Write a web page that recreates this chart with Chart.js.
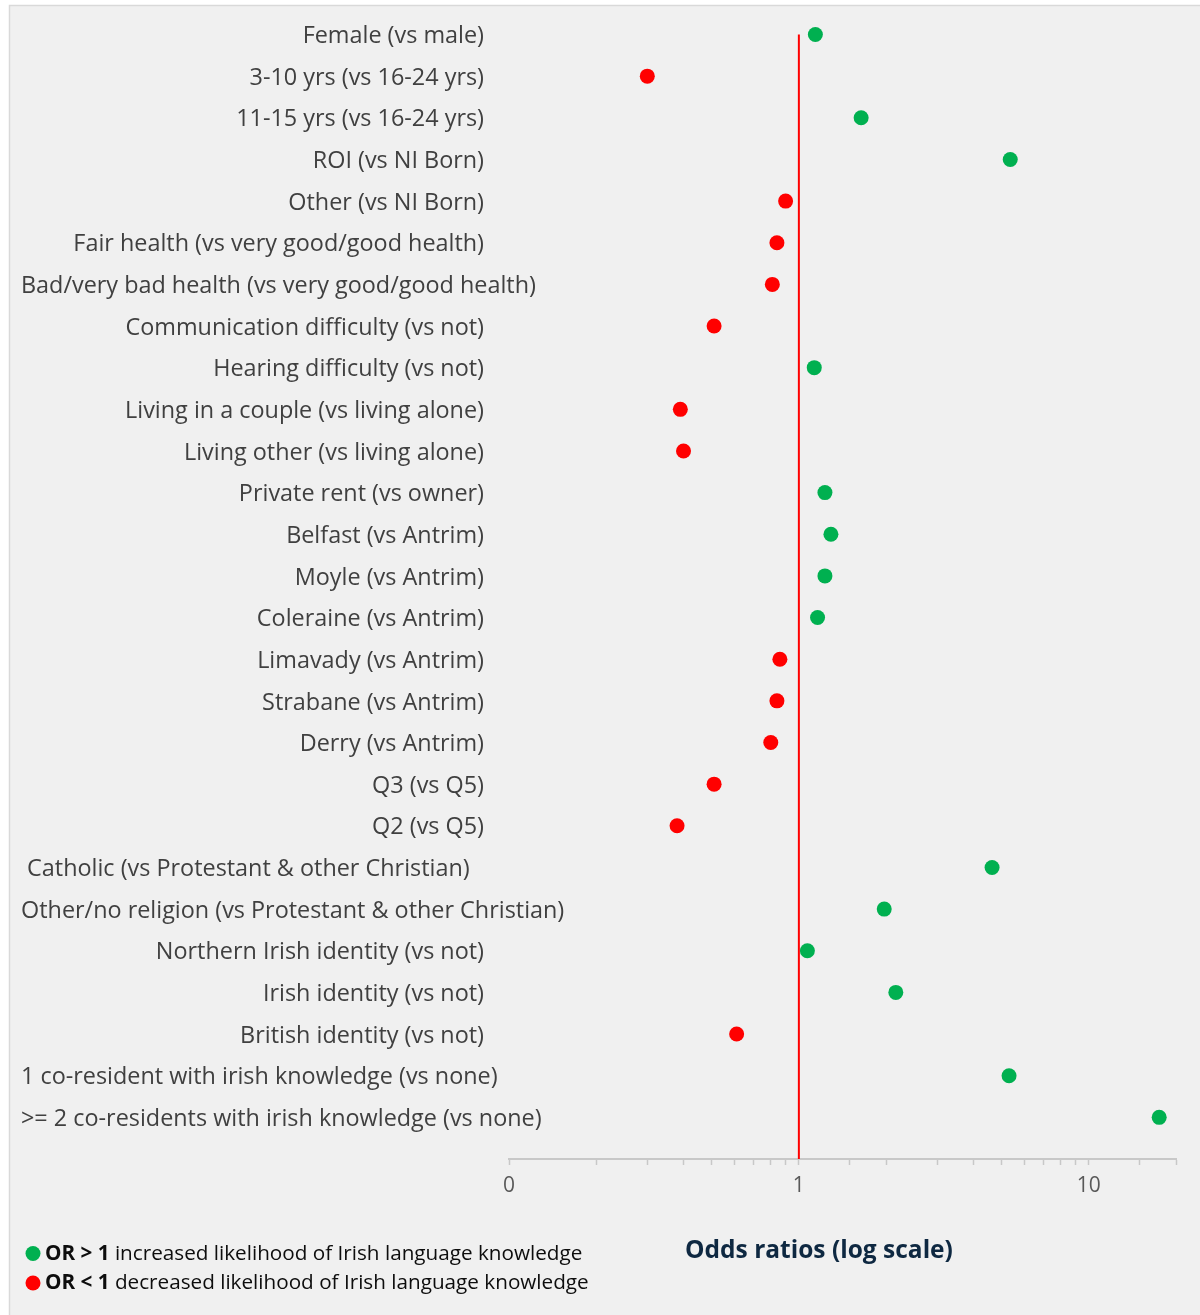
<!DOCTYPE html>
<html>
<head>
<meta charset="utf-8">
<script src="https://cdn.jsdelivr.net/npm/chart.js@4.4.1/dist/chart.umd.min.js"></script>
<style>
  html, body { margin: 0; padding: 0; background: #ffffff; }
  #wrap { width: 1200px; height: 1315px; position: relative; }
  canvas { display: block; }
</style>
</head>
<body>
<div id="wrap"><canvas id="c" width="1200" height="1315"></canvas></div>
<script>
// ---- Data ----
const categories = [
  "Female (vs male)",
  "3-10 yrs (vs 16-24 yrs)",
  "11-15 yrs (vs 16-24 yrs)",
  "ROI (vs NI Born)",
  "Other (vs NI Born)",
  "Fair health (vs very good/good health)",
  "Bad/very bad health (vs very good/good health)",
  "Communication difficulty (vs not)",
  "Hearing difficulty (vs not)",
  "Living in a couple (vs living alone)",
  "Living other (vs living alone)",
  "Private rent (vs owner)",
  "Belfast (vs Antrim)",
  "Moyle (vs Antrim)",
  "Coleraine (vs Antrim)",
  "Limavady (vs Antrim)",
  "Strabane (vs Antrim)",
  "Derry (vs Antrim)",
  "Q3 (vs Q5)",
  "Q2 (vs Q5)",
  " Catholic (vs Protestant & other Christian)",
  "Other/no religion (vs Protestant & other Christian)",
  "Northern Irish identity (vs not)",
  "Irish identity (vs not)",
  "British identity (vs not)",
  "1 co-resident with irish knowledge (vs none)",
  ">= 2 co-residents with irish knowledge (vs none)"
];
const oddsRatios = [
  1.14, 0.30, 1.64, 5.36, 0.90, 0.84, 0.81, 0.51, 1.13, 0.39,
  0.40, 1.23, 1.29, 1.23, 1.16, 0.86, 0.84, 0.80, 0.51, 0.38,
  4.64, 1.97, 1.07, 2.16, 0.61, 5.31, 17.5
];
const xTickLabels = { 0.1: "0", 1: "1", 10: "10" };
const axisTitle = "Odds ratios (log scale)";
const legendItems = [
  { bold: "OR > 1", text: " increased likelihood of Irish language knowledge", up: true },
  { bold: "OR < 1", text: " decreased likelihood of Irish language knowledge", up: false }
];

// ---- Styles ----
const GREEN = "#00b050", RED = "#ff0000";
const FONT = "'Open Sans', 'Noto Sans', sans-serif";
const leftAligned = new Set([6, 20, 21, 25, 26]);

const n = categories.length;
const points = oddsRatios.map((v, i) => ({ x: v, y: n - i }));
const pointColors = oddsRatios.map(v => v > 1 ? GREEN : RED);

const bgPlugin = {
  id: "bg",
  beforeDraw(chart) {
    const ctx = chart.ctx;
    ctx.save();
    ctx.fillStyle = "#ffffff";
    ctx.fillRect(0, 0, chart.width, chart.height);
    ctx.fillStyle = "#f0f0f0";
    ctx.fillRect(10, 6, chart.width - 10, chart.height - 6);
    ctx.strokeStyle = "#d9d9d9";
    ctx.lineWidth = 1.5;
    ctx.beginPath();
    ctx.moveTo(9.5, chart.height);
    ctx.lineTo(9.5, 5.5);
    ctx.lineTo(chart.width, 5.5);
    ctx.stroke();
    ctx.restore();
  }
};

const labelPlugin = {
  id: "catLabels",
  afterDraw(chart) {
    const ctx = chart.ctx;
    const ys = chart.scales.y;
    ctx.save();
    ctx.font = "23.4px " + FONT;
    ctx.fillStyle = "#404040";
    ctx.textBaseline = "middle";
    categories.forEach((lab, i) => {
      const y = ys.getPixelForValue(n - i) + 2;
      if (leftAligned.has(i)) {
        ctx.textAlign = "left";
        ctx.fillText(lab, 21, y);
      } else {
        ctx.textAlign = "right";
        ctx.fillText(lab, 484, y);
      }
    });
    // axis title
    ctx.font = "bold 24.5px " + FONT;
    ctx.fillStyle = "#0e2841";
    ctx.textAlign = "center";
    ctx.fillText(axisTitle, 819, 1251);
    // legend
    legendItems.forEach((it, k) => {
      const y = 1254 + k * 29.5;
      ctx.fillStyle = it.up ? GREEN : RED;
      ctx.beginPath();
      ctx.arc(33, y - 0.5, 7.5, 0, Math.PI * 2);
      ctx.fill();
      ctx.fillStyle = "#0d0d0d";
      ctx.textAlign = "left";
      ctx.font = "bold 20.7px " + FONT;
      ctx.fillText(it.bold, 45, y);
      const w = ctx.measureText(it.bold).width;
      ctx.font = "20.7px " + FONT;
      ctx.fillText(it.text, 45 + w, y);
    });
    ctx.restore();
  }
};

new Chart(document.getElementById("c"), {
  type: "scatter",
  data: {
    datasets: [
      {
        type: "scatter",
        data: points,
        pointRadius: 7.5,
        pointHoverRadius: 7.5,
        pointBackgroundColor: pointColors,
        pointBorderWidth: 0,
        borderWidth: 0,
        order: 1
      },
      {
        type: "line",
        data: [{ x: 1, y: 0 }, { x: 1, y: n }],
        borderColor: RED,
        borderWidth: 2,
        pointRadius: 0,
        fill: false,
        order: 2
      }
    ]
  },
  options: {
    responsive: false,
    animation: false,
    layout: { padding: { left: 509, right: 24, top: 9.5, bottom: 0 } },
    plugins: { legend: { display: false }, tooltip: { enabled: false } },
    scales: {
      x: {
        type: "logarithmic",
        min: 0.1,
        max: 20,
        position: "bottom",
        border: { display: true, color: "#c8c8c8", width: 2 },
        grid: {
          display: true,
          drawOnChartArea: false,
          drawTicks: true,
          tickLength: 6,
          tickColor: "#c8c8c8",
          tickWidth: 1.5
        },
        ticks: {
          autoSkip: false,
          maxRotation: 0,
          padding: 8,
          color: "#595959",
          font: { family: FONT, size: 21 },
          callback: (v) => xTickLabels[v] !== undefined ? xTickLabels[v] : ""
        },
        afterFit: (s) => { s.height = 1315 - 1159; }
      },
      y: {
        type: "linear",
        display: false,
        min: 0,
        max: 27.6
      }
    }
  },
  plugins: [bgPlugin, labelPlugin]
});
</script>
</body>
</html>
